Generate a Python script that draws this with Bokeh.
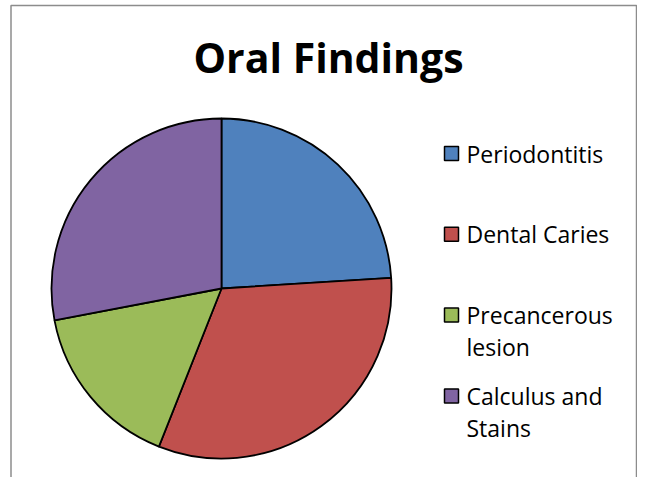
import math
from bokeh.plotting import figure
from bokeh.models import Range1d, ColumnDataSource
from bokeh.core.properties import value
from bokeh.embed import file_html
from bokeh.resources import INLINE

# ---- data ----
categories = ["Periodontitis", "Dental Caries", " Precancerous\nlesion", "Calculus and\nStains"]
values = [24, 32, 16, 28]
colors = ["#4F81BD", "#C0504D", "#9BBB59", "#8064A2"]
title_text = "Oral Findings"

W, H = 637, 477
p = figure(width=W, height=H, output_backend="svg", toolbar_location=None,
           x_range=Range1d(0, W), y_range=Range1d(0, H), min_border=0)
p.axis.visible = False
p.grid.visible = False
p.outline_line_color = None
p.background_fill_color = "white"
p.border_fill_color = "white"

# picture pixel -> data helpers
def sx(x):
    return x
def sy(y):
    return H - y

# border (chart area frame, bottom clipped in reference)
p.line([sx(10.5), sx(10.5), sx(636), sx(636)], [sy(490), sy(5), sy(5), sy(490)],
       line_color="#8c8c8c", line_width=1.5)

# pie
total = float(sum(values))
starts, ends = [], []
cum = 0.0
for v in values:
    a0 = math.pi / 2 - 2 * math.pi * (cum + v) / total
    a1 = math.pi / 2 - 2 * math.pi * cum / total
    starts.append(a0)
    ends.append(a1)
    cum += v
src = ColumnDataSource(dict(start=starts, end=ends, color=colors))
p.wedge(x=sx(221), y=sy(288), radius=170, radius_units="screen",
        start_angle="start", end_angle="end", fill_color="color",
        line_color="black", line_width=1.8, source=src)

# title
p.text(x=[sx(328)], y=[sy(56)], text=[title_text], text_font=value("Open Sans"),
       text_font_style="bold", text_font_size="41px", text_align="center",
       text_baseline="alphabetic", text_color="black")

# legend
row0, row_step, line_step = 153, 80.8, 32
lx, ly, lcol = [], [], []
tx, ty, tt = [], [], []
for i, (cat, col) in enumerate(zip(categories, colors)):
    base = row0 + i * row_step
    lx.append(sx(451))
    ly.append(sy(base))
    lcol.append(col)
    for j, line in enumerate(cat.split("\n")):
        tx.append(sx(466))
        ty.append(sy(base + j * line_step))
        tt.append(line)
p.scatter(x=lx, y=ly, marker="square", size=14, fill_color=lcol,
          line_color="black", line_width=1.5)
p.text(x=tx, y=ty, text=tt, text_font=value("Open Sans"), text_font_size="23px",
       text_align="left", text_baseline="alphabetic", text_color="black")

open("out.html", "w").write(file_html(p, INLINE))
